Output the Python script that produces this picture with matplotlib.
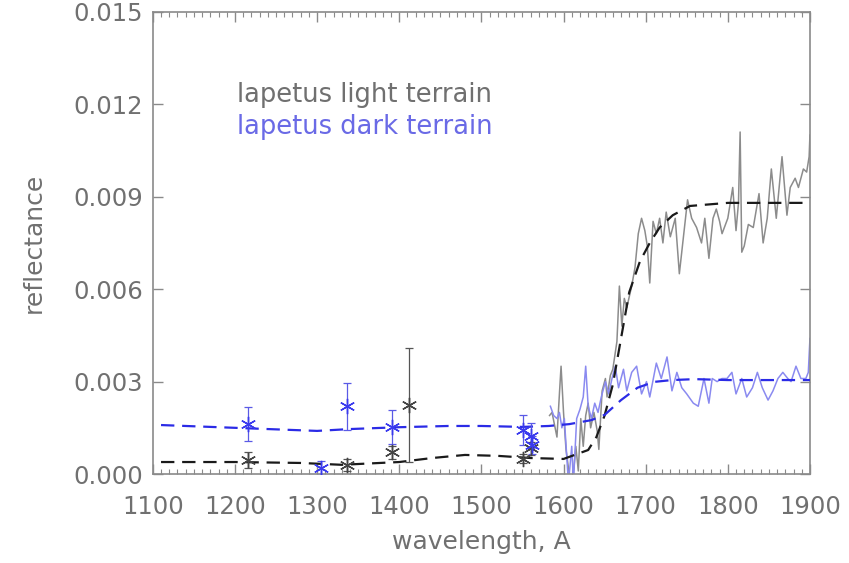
import matplotlib
matplotlib.use("Agg")
import matplotlib.pyplot as plt
from matplotlib.ticker import MultipleLocator

# ---- data ----
# model curves (dashed)
light_model_wave = [1110, 1200, 1280, 1330, 1400, 1440, 1480, 1520, 1560, 1600, 1630, 1640, 1650, 1660,
                    1670, 1680, 1693, 1705, 1717, 1733, 1754, 1800, 1900]
light_model_refl = [0.00039, 0.00039, 0.00036, 0.00030, 0.00039, 0.00052, 0.00062, 0.00059, 0.00052, 0.00049,
                    0.00078, 0.00120, 0.00190, 0.00290, 0.00440, 0.00590, 0.00690, 0.00750, 0.00800, 0.00840,
                    0.00870, 0.00880, 0.00880]
dark_model_wave = [1110, 1200, 1270, 1300, 1340, 1400, 1460, 1500, 1550, 1582, 1607, 1634, 1650, 1670,
                   1690, 1710, 1732, 1760, 1800, 1900]
dark_model_refl = [0.00159, 0.00150, 0.00143, 0.00140, 0.00146, 0.00152, 0.00156, 0.00156, 0.00153, 0.00156,
                   0.00162, 0.00175, 0.00192, 0.00240, 0.00280, 0.00299, 0.00305, 0.00308, 0.00305, 0.00305]

# spectra
light_wave = [1583, 1586, 1589, 1592, 1595, 1597, 1600, 1603, 1607, 1611, 1615, 1618, 1621, 1624, 1627,
              1630, 1633, 1637, 1641, 1643, 1647, 1651, 1653, 1657, 1660, 1665, 1668, 1671, 1674, 1677,
              1683, 1687, 1691, 1695, 1699, 1702, 1705, 1709, 1713, 1717, 1721, 1725, 1730, 1736, 1741,
              1746, 1751, 1756, 1762, 1768, 1772, 1777, 1782, 1786, 1790, 1793, 1800, 1806, 1810, 1813,
              1815, 1817, 1820, 1825, 1831, 1838, 1843, 1848, 1853, 1859, 1866, 1872, 1876, 1882, 1886,
              1892, 1896, 1899, 1900]
light_refl = [0.0019, 0.0020, 0.0016, 0.0012, 0.0026, 0.0035, 0.0020, 0.0008, 0.0000, -0.0003, 0.0009,
              0.0001, 0.0018, 0.0009, 0.0019, 0.0023, 0.0015, 0.0020, 0.0014, 0.0008, 0.0027, 0.0031,
              0.0025, 0.0032, 0.0034, 0.0043, 0.0061, 0.0048, 0.0057, 0.0054, 0.0061, 0.0067, 0.0078,
              0.0083, 0.0079, 0.0074, 0.0062, 0.0082, 0.0078, 0.0083, 0.0075, 0.0085, 0.0077, 0.0083,
              0.0065, 0.0077, 0.0089, 0.0083, 0.0080, 0.0075, 0.0083, 0.0070, 0.0083, 0.0086, 0.0082,
              0.0078, 0.0083, 0.0093, 0.0079, 0.0088, 0.0111, 0.0072, 0.0074, 0.0081, 0.0080, 0.0091,
              0.0075, 0.0083, 0.0099, 0.0083, 0.0103, 0.0084, 0.0093, 0.0096, 0.0093, 0.0099, 0.0098,
              0.0103, 0.0110]
dark_wave = [1584, 1588, 1592, 1595, 1598, 1601, 1606, 1610, 1612, 1616, 1620, 1624, 1627, 1630, 1634,
             1638, 1642, 1646, 1651, 1655, 1659, 1663, 1667, 1673, 1677, 1683, 1689, 1695, 1701, 1705,
             1713, 1719, 1726, 1732, 1738, 1744, 1750, 1758, 1764, 1771, 1777, 1781, 1787, 1793, 1799,
             1805, 1810, 1817, 1823, 1830, 1836, 1842, 1849, 1855, 1861, 1867, 1873, 1877, 1883, 1889,
             1895, 1898, 1900]
dark_refl = [0.0022, 0.0019, 0.0018, 0.0020, 0.0015, 0.0018, -0.0003, 0.0009, -0.0003, 0.0018, 0.0021,
             0.0025, 0.0035, 0.0022, 0.0018, 0.0023, 0.0020, 0.0025, 0.0030, 0.0026, 0.0031, 0.0035,
             0.0028, 0.0034, 0.0027, 0.0033, 0.0035, 0.0026, 0.0030, 0.0025, 0.0036, 0.0031, 0.0038,
             0.0027, 0.0033, 0.0028, 0.0026, 0.0023, 0.0022, 0.0031, 0.0023, 0.0031, 0.0030, 0.0031,
             0.0031, 0.0033, 0.0026, 0.0031, 0.0025, 0.0028, 0.0033, 0.0028, 0.0024, 0.0027, 0.0031,
             0.0033, 0.0031, 0.0030, 0.0035, 0.0031, 0.0031, 0.0033, 0.0044]

# photometric points with error bars
dark_pt_wave = [1216, 1305, 1336, 1391, 1551, 1560, 1562]
dark_pt_refl = [0.00162, 0.00020, 0.00220, 0.00153, 0.00143, 0.00125, 0.00095]
dark_pt_err = [0.00055, 0.00022, 0.00077, 0.00055, 0.00050, 0.00040, 0.00030]
light_pt_wave = [1216, 1336, 1391, 1412, 1551, 1561]
light_pt_refl = [0.00045, 0.00030, 0.00070, 0.00224, 0.00050, 0.00083]
light_pt_err = [0.00025, 0.00020, 0.00020, 0.00185, 0.00015, 0.00020]

x_ticks = [1100, 1200, 1300, 1400, 1500, 1600, 1700, 1800, 1900]
y_ticks = [0.000, 0.003, 0.006, 0.009, 0.012, 0.015]

# ---- styling ----
txt = "#707070"
spine = "#8a8a8a"
fs = 17.5

fig = plt.figure(figsize=(8.49, 5.63), dpi=100)
ax = fig.add_axes([0.180, 0.158, 0.774, 0.821])

ax.plot(light_wave, light_refl, color="#8c8c8c", lw=1.1, zorder=2)
ax.plot(dark_wave, dark_refl, color="#8a8af0", lw=1.1, zorder=2)

ax.plot(light_model_wave, light_model_refl, color="#1a1a1a", lw=1.6, ls=(0, (6, 3.5)), zorder=3)
ax.plot(dark_model_wave, dark_model_refl, color="#2b2be6", lw=1.6, ls=(0, (6, 3.5)), zorder=3)

ast = (6, 2, 0)
ax.errorbar(light_pt_wave, light_pt_refl, yerr=light_pt_err, fmt="none", ecolor="#555555",
            elinewidth=0.9, capsize=3, capthick=0.9, zorder=4)
ax.plot(light_pt_wave, light_pt_refl, ls="none", marker=ast, ms=11, mew=1.0,
        color="#444444", zorder=5)
ax.errorbar(dark_pt_wave, dark_pt_refl, yerr=dark_pt_err, fmt="none", ecolor="#5a5ae6",
            elinewidth=0.9, capsize=3, capthick=0.9, zorder=4)
ax.plot(dark_pt_wave, dark_pt_refl, ls="none", marker=ast, ms=11, mew=1.0,
        color="#3a3aee", zorder=5)

ax.set_xlim(1100, 1900)
ax.set_ylim(0, 0.015)
ax.set_xticks(x_ticks)
ax.set_xticklabels([str(v) for v in x_ticks])
ax.set_yticks(y_ticks)
ax.set_yticklabels([f"{v:.3f}" for v in y_ticks])
ax.xaxis.set_minor_locator(MultipleLocator(10))

ax.tick_params(axis="both", which="major", direction="in", length=7, width=1.0,
               color=spine, labelcolor=txt, labelsize=fs, top=True, right=True, pad=7)
ax.tick_params(axis="x", which="major", pad=15)
ax.tick_params(axis="x", which="minor", direction="in", length=3.5, width=0.8,
               color=spine, top=True, bottom=True)
for s in ax.spines.values():
    s.set_color(spine)
    s.set_linewidth(1.2)

ax.set_xlabel("wavelength, A", fontsize=18, color=txt, labelpad=8)
ax.set_ylabel("reflectance", fontsize=18, color=txt, labelpad=20)

ax.text(1202, 0.0123, "lapetus light terrain", fontsize=18.5, color="#707070", va="center", ha="left")
ax.text(1202, 0.01125, "lapetus dark terrain", fontsize=18.5, color="#6a6ae6", va="center", ha="left")

fig.savefig("out.png", dpi=100)
